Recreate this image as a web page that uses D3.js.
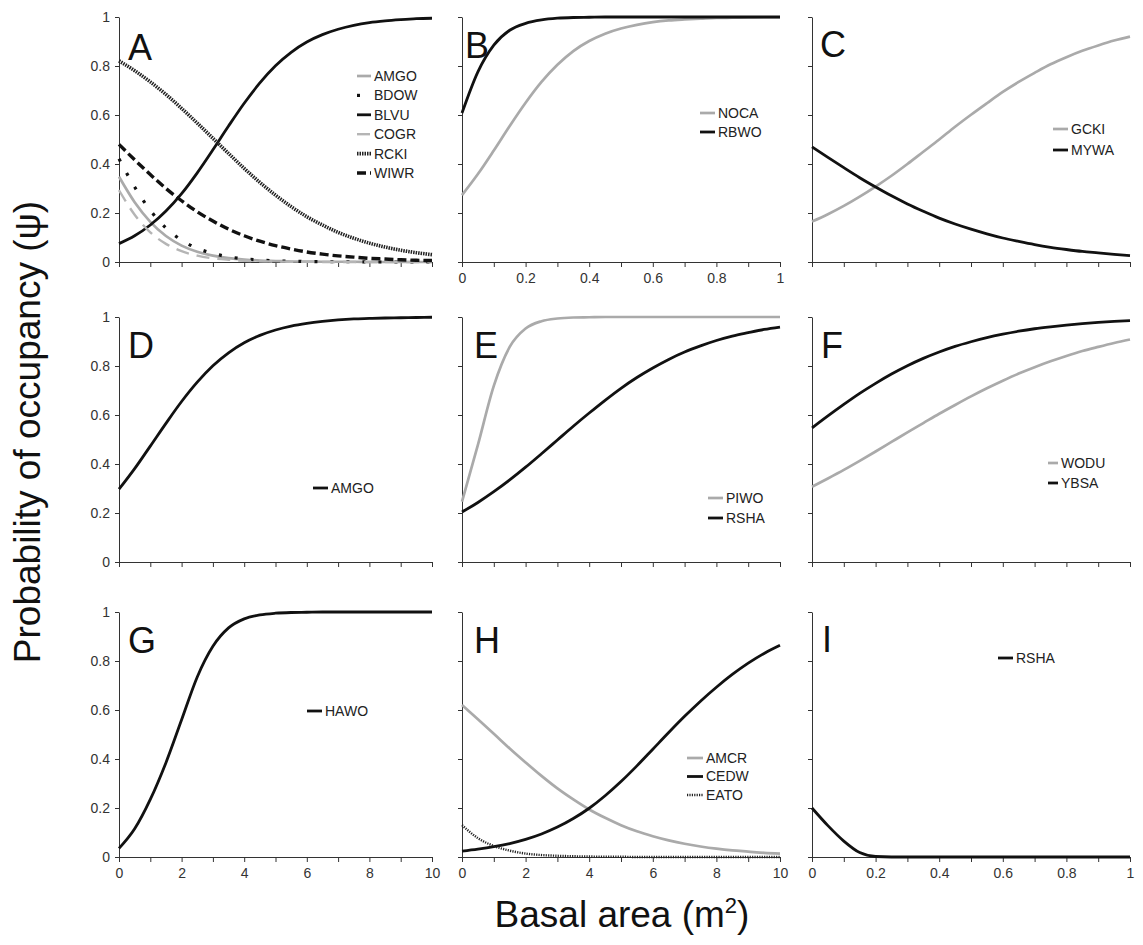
<!DOCTYPE html>
<meta charset="utf-8">
<style>
body { margin: 0; background: #fff; }
svg { font-family: "Liberation Sans", Arial, sans-serif; }
.axis path, .axis line { stroke: #333; stroke-width: 1; }
.axis text { fill: #333; font-size: 14px; }
.legend text { fill: #222; font-size: 14px; }
.letter { font-size: 36px; fill: #111; }
.title { font-size: 37px; fill: #111; }
</style>
<svg width="1143" height="945"></svg>
<script src="https://d3js.org/d3.v7.min.js"></script>
<script>

// x grids and ticks
var xs10 = [0,0.5,1,1.5,2,2.5,3,3.5,4,4.5,5,5.5,6,6.5,7,7.5,8,8.5,9,9.5,10];
var xs1 = [0,0.05,0.1,0.15,0.2,0.25,0.3,0.35,0.4,0.45,0.5,0.55,0.6,0.65,0.7,0.75,0.8,0.85,0.9,0.95,1];
var ticks10 = [0,1,2,3,4,5,6,7,8,9,10];
var ticks1 = [0,0.1,0.2,0.3,0.4,0.5,0.6,0.7,0.8,0.9,1];
var yTicks = [0,0.2,0.4,0.6,0.8,1];

// panel A
var aAMGO = [0.348,0.244,0.164,0.106,0.067,0.042,0.026,0.016,0.010,0.006,0.004,0.002,0.002,0.001,0.001,0.001,0,0,0,0,0];
var aBDOW = [0.421,0.306,0.211,0.139,0.089,0.056,0.035,0.021,0.013,0.008,0.005,0.003,0.002,0.001,0.001,0.001,0,0,0,0,0];
var aBLVU = [0.075,0.107,0.151,0.208,0.279,0.364,0.458,0.555,0.648,0.731,0.801,0.856,0.898,0.928,0.950,0.966,0.977,0.984,0.989,0.993,0.995];
var aCOGR = [0.293,0.193,0.121,0.074,0.044,0.026,0.015,0.009,0.005,0.003,0.002,0.001,0.001,0,0,0,0,0,0,0,0];
var aRCKI = [0.821,0.781,0.735,0.684,0.627,0.567,0.505,0.443,0.382,0.325,0.273,0.226,0.185,0.151,0.121,0.097,0.077,0.061,0.048,0.038,0.030];
var aWIWR = [0.480,0.417,0.357,0.300,0.250,0.205,0.167,0.134,0.107,0.085,0.067,0.053,0.041,0.032,0.025,0.020,0.015,0.012,0.009,0.007,0.006];
// panel B
var bNOCA = [0.273,0.359,0.455,0.555,0.650,0.735,0.805,0.861,0.902,0.932,0.953,0.968,0.979,0.986,0.990,0.993,0.996,0.997,0.998,0.999,0.999];
var bRBWO = [0.608,0.776,0.885,0.946,0.974,0.988,0.995,0.998,0.999,1,1,1,1,1,1,1,1,1,1,1,1];
// panel C
var cGCKI = [0.165,0.195,0.229,0.267,0.308,0.352,0.400,0.450,0.500,0.552,0.601,0.648,0.694,0.735,0.772,0.807,0.836,0.862,0.884,0.904,0.920];
var cMYWA = [0.470,0.427,0.385,0.344,0.306,0.270,0.237,0.207,0.179,0.155,0.134,0.115,0.098,0.084,0.071,0.060,0.051,0.043,0.037,0.031,0.026];
// panel D
var dAMGO = [0.297,0.381,0.473,0.566,0.655,0.734,0.801,0.854,0.895,0.925,0.947,0.963,0.974,0.982,0.988,0.992,0.994,0.996,0.997,0.998,0.999];
// panel E
var ePIWO = [0.246,0.478,0.719,0.878,0.953,0.983,0.994,0.998,0.999,1,1,1,1,1,1,1,1,1,1,1,1];
var eRSHA = [0.204,0.243,0.287,0.335,0.387,0.442,0.498,0.554,0.608,0.660,0.709,0.753,0.792,0.827,0.857,0.882,0.904,0.922,0.936,0.949,0.959];
// panel F
var fWODU = [0.307,0.341,0.376,0.413,0.451,0.490,0.529,0.567,0.605,0.641,0.676,0.709,0.740,0.769,0.795,0.819,0.841,0.861,0.878,0.894,0.908];
var fYBSA = [0.547,0.596,0.643,0.688,0.729,0.767,0.801,0.831,0.857,0.880,0.899,0.916,0.930,0.942,0.952,0.960,0.967,0.973,0.978,0.982,0.985];
// panel G
var gHAWO = [0.035,0.115,0.235,0.385,0.560,0.735,0.860,0.935,0.972,0.988,0.995,0.998,0.999,1,1,1,1,1,1,1,1];
// panel H
var hAMCR = [0.620,0.562,0.503,0.443,0.386,0.331,0.280,0.235,0.194,0.160,0.130,0.105,0.085,0.068,0.054,0.043,0.034,0.027,0.022,0.017,0.014];
var hCEDW = [0.024,0.032,0.042,0.055,0.072,0.094,0.122,0.157,0.199,0.250,0.308,0.372,0.440,0.508,0.574,0.636,0.693,0.745,0.791,0.831,0.864];
var hEATO = [0.130,0.077,0.045,0.026,0.014,0.008,0.005,0.003,0.002,0.001,0.001,0,0,0,0,0,0,0,0,0,0];
// panel I
var iRSHA = [0.200,0.128,0.065,0.018,0.002,0,0,0,0,0,0,0,0,0,0,0,0,0,0,0,0];

var svg = d3.select("svg");

var colX = [119, 462, 812], colW = [313, 318, 318];
var rowY = [17, 317, 612], rowH = 245;

var styles = {
  black:    {stroke: "#111",    width: 2.8, dash: null},
  gray:     {stroke: "#aaaaaa", width: 2.7, dash: null},
  grayDash: {stroke: "#b5b5b5", width: 2.4, dash: "13,8"},
  dots:     {stroke: "#111",    width: 3.2, dash: "3,13"},
  dotted:   {stroke: "#222",    width: 3.6, dash: "1.5,1"},
  dashed:   {stroke: "#111",    width: 3.4, dash: "9,4"},
  fineDot:  {stroke: "#222",    width: 2.4, dash: "1.2,1.2"}
};

// layout of each panel: letter offset, legend offset
var panels = [
  {id: "A", row: 0, col: 0, xs: xs10, ticks: ticks10, labels: false, letter: [9, 43],
   legend: {x: 238, y: 59, step: 19.4, len: 14},
   series: [["AMGO", aAMGO, "gray"], ["BDOW", aBDOW, "dots"], ["BLVU", aBLVU, "black"],
            ["COGR", aCOGR, "grayDash"], ["RCKI", aRCKI, "dotted"], ["WIWR", aWIWR, "dashed"]]},
  {id: "B", row: 0, col: 1, xs: xs1, ticks: ticks1, labels: true, letter: [3, 41],
   legend: {x: 238, y: 96, step: 19, len: 15},
   series: [["NOCA", bNOCA, "gray"], ["RBWO", bRBWO, "black"]]},
  {id: "C", row: 0, col: 2, xs: xs1, ticks: ticks1, labels: false, letter: [8, 40],
   legend: {x: 241, y: 112, step: 21, len: 15},
   series: [["GCKI", cGCKI, "gray"], ["MYWA", cMYWA, "black"]]},
  {id: "D", row: 1, col: 0, xs: xs10, ticks: ticks10, labels: false, letter: [9, 41],
   legend: {x: 194, y: 171, step: 19, len: 15},
   series: [["AMGO", dAMGO, "black"]]},
  {id: "E", row: 1, col: 1, xs: xs10, ticks: ticks10, labels: false, letter: [12, 41],
   legend: {x: 246, y: 181, step: 20, len: 15},
   series: [["PIWO", ePIWO, "gray"], ["RSHA", eRSHA, "black"]]},
  {id: "F", row: 1, col: 2, xs: xs1, ticks: ticks1, labels: false, letter: [9, 41],
   legend: {x: 236, y: 146, step: 20, len: 10},
   series: [["WODU", fWODU, "gray"], ["YBSA", fYBSA, "black"]]},
  {id: "G", row: 2, col: 0, xs: xs10, ticks: ticks10, labels: true, letter: [9, 41],
   legend: {x: 188, y: 99, step: 19, len: 15},
   series: [["HAWO", gHAWO, "black"]]},
  {id: "H", row: 2, col: 1, xs: xs10, ticks: ticks10, labels: true, letter: [12, 41],
   legend: {x: 225, y: 146, step: 18.5, len: 16},
   series: [["AMCR", hAMCR, "gray"], ["CEDW", hCEDW, "black"], ["EATO", hEATO, "fineDot"]]},
  {id: "I", row: 2, col: 2, xs: xs1, ticks: ticks1, labels: true, letter: [10, 40],
   legend: {x: 186, y: 46, step: 19, len: 15},
   series: [["RSHA", iRSHA, "black"]]}
];

var fmt = d3.format("~g");

panels.forEach(function(p) {
  var w = colW[p.col];
  var g = svg.append("g").attr("transform", "translate(" + colX[p.col] + "," + rowY[p.row] + ")");

  var x = d3.scaleLinear().domain([0, p.xs[p.xs.length - 1]]).range([0, w]);
  var y = d3.scaleLinear().domain([0, 1]).range([rowH, 0]);

  g.append("g")
      .attr("class", "axis")
      .attr("transform", "translate(0," + rowH + ")")
      .call(d3.axisBottom(x).tickValues(p.ticks).tickSize(5).tickSizeOuter(0).tickPadding(6)
        .tickFormat(function(d, i) { return p.labels && i % 2 == 0 ? fmt(d) : ""; }));

  g.append("g")
      .attr("class", "axis")
      .call(d3.axisLeft(y).tickValues(yTicks).tickSize(4).tickSizeOuter(0).tickPadding(5)
        .tickFormat(function(d) { return p.col == 0 ? fmt(d) : ""; }));

  var line = d3.line()
      .x(function(d, i) { return x(p.xs[i]); })
      .y(function(d) { return y(d); })
      .curve(d3.curveMonotoneX);

  p.series.forEach(function(s) {
    var st = styles[s[2]];
    g.append("path")
        .datum(s[1])
        .attr("fill", "none")
        .attr("stroke", st.stroke)
        .attr("stroke-width", st.width)
        .attr("stroke-dasharray", st.dash)
        .attr("d", line);
  });

  g.append("text")
      .attr("class", "letter")
      .attr("x", p.letter[0])
      .attr("y", p.letter[1])
      .text(p.id);

  var lg = g.append("g").attr("class", "legend");
  p.series.forEach(function(s, i) {
    var st = styles[s[2]];
    var ly = p.legend.y + i * p.legend.step;
    lg.append("line")
        .attr("x1", p.legend.x).attr("x2", p.legend.x + p.legend.len)
        .attr("y1", ly).attr("y2", ly)
        .attr("stroke", st.stroke)
        .attr("stroke-width", st.width)
        .attr("stroke-dasharray", st.dash);
    lg.append("text")
        .attr("x", p.legend.x + p.legend.len + 3)
        .attr("y", ly)
        .attr("dy", "0.35em")
        .text(s[0]);
  });
});

// axis titles
svg.append("text")
    .attr("class", "title")
    .attr("transform", "translate(40,432) rotate(-90)")
    .attr("text-anchor", "middle")
    .text("Probability of occupancy (\u03C8)");

var xt = svg.append("text")
    .attr("class", "title")
    .attr("x", 622)
    .attr("y", 927)
    .attr("text-anchor", "middle");
xt.append("tspan").text("Basal area (m");
xt.append("tspan").attr("dy", -14).style("font-size", "22px").text("2");
xt.append("tspan").attr("dy", 14).text(")");

</script>
